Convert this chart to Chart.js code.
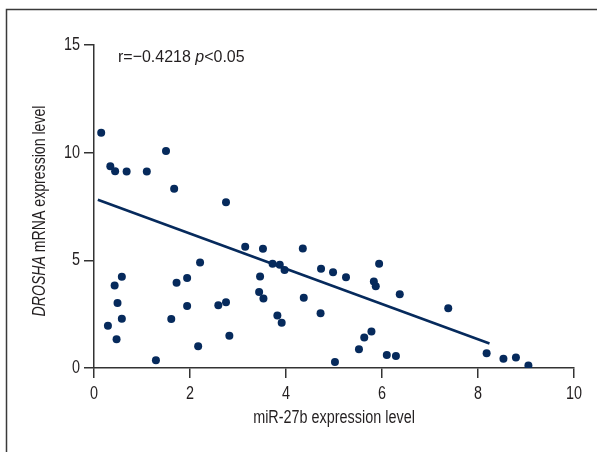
<!DOCTYPE html>
<html>
<head>
<meta charset="utf-8">
<script src="https://cdn.jsdelivr.net/npm/chart.js@4"></script>
<style>
html,body{margin:0;padding:0;background:#fff;}
#wrap{position:relative;width:597px;height:452px;}
</style>
</head>
<body>
<div id="wrap"><canvas id="c" width="597" height="452"></canvas></div>
<script>
const xValues = [0.15,0.34,0.44,0.68,1.10,1.50,1.67,2.75,3.15,3.52,4.35,3.72,3.87,3.97,4.73,4.98,5.25,5.94,5.83,5.87,6.37,7.38,2.21,1.94,1.72,0.58,0.43,0.49,0.58,0.29,0.47,1.29,1.61,1.94,2.17,2.59,2.75,2.82,3.46,3.44,3.53,3.82,3.91,4.37,4.72,5.02,5.52,5.63,5.78,6.10,6.29,8.18,8.53,8.79,9.05];
const yValues = [10.93,9.37,9.14,9.12,9.12,10.08,8.32,7.70,5.63,5.54,5.55,4.84,4.79,4.55,4.61,4.45,4.21,4.84,4.02,3.80,3.43,2.78,4.90,4.18,3.96,4.24,3.83,3.02,2.29,1.96,1.33,0.36,2.27,2.88,1.01,2.91,3.05,1.50,4.25,3.53,3.23,2.44,2.10,3.26,2.54,0.28,0.87,1.42,1.70,0.60,0.56,0.68,0.43,0.49,0.12];
const fitX = [0.08, 8.24];
const fitY = [7.81, 1.14];
const xTicks = [0,2,4,6,8,10];
const yTicks = [0,5,10,15];
const xTitle = "miR-27b expression level";
const yTitleItalic = "DROSHA";
const yTitleRest = " mRNA expression level";
const noteR = "r=\u22120.4218 ";
const noteP = "p";
const noteRest = "<0.05";

const FONT = '"Liberation Sans", Arial, sans-serif';
const NAVY = '#062a5c';
const AXIS = '#333333';
const TEXT = '#231f20';
const SQ = 0.8;

const points = xValues.map((x,i)=>({x:x,y:yValues[i]}));
const fit = fitX.map((x,i)=>({x:x,y:fitY[i]}));

function drawRuns(ctx, runs, x, y, size, sq, align){
  const fonts = runs.map(r => (r[1] ? 'italic ' : '') + size + 'px ' + FONT);
  const widths = runs.map((r,i)=>{ ctx.font = fonts[i]; return ctx.measureText(r[0]).width; });
  const total = widths.reduce((a,b)=>a+b,0);
  let start = align==='center' ? -total/2 : (align==='right' ? -total : 0);
  ctx.save();
  ctx.translate(x,y);
  ctx.scale(sq,1);
  ctx.textAlign='left';
  ctx.textBaseline='middle';
  let cx = start;
  runs.forEach((r,i)=>{ ctx.font = fonts[i]; ctx.fillText(r[0], cx, 0); cx += widths[i]; });
  ctx.restore();
}

const decor = {
  id:'decor',
  beforeDraw(chart){
    const ctx = chart.ctx;
    ctx.save();
    ctx.fillStyle='#fff';
    ctx.fillRect(0,0,chart.width,chart.height);
    ctx.strokeStyle='#3a3a3a';
    ctx.lineWidth=1.5;
    ctx.strokeRect(6.5,9.5,640,500);
    ctx.restore();
  },
  afterDraw(chart){
    const ctx = chart.ctx;
    const xs = chart.scales.x, ys = chart.scales.y;
    ctx.save();
    ctx.fillStyle=TEXT;
    xTicks.forEach(v=> drawRuns(ctx, [[String(v),false]], xs.getPixelForValue(v), 394, 18, SQ, 'center'));
    yTicks.forEach(v=> drawRuns(ctx, [[String(v),false]], 80, ys.getPixelForValue(v), 18, SQ, 'right'));
    drawRuns(ctx, [[xTitle,false]], (xs.left+xs.right)/2, 418, 18, SQ, 'center');
    ctx.save();
    ctx.translate(40, 211);
    ctx.rotate(-Math.PI/2);
    drawRuns(ctx, [[yTitleItalic,true],[yTitleRest,false]], 0, 0, 18, SQ*0.98, 'center');
    ctx.restore();
    drawRuns(ctx, [[noteR,false],[noteP,true],[noteRest,false]], xs.getPixelForValue(0.5), ys.getPixelForValue(14.45), 17, 0.94, 'left');
    ctx.restore();
  }
};

new Chart(document.getElementById('c'), {
  type:'scatter',
  data:{
    datasets:[
      {data:points, backgroundColor:NAVY, borderColor:NAVY, pointRadius:4, pointHoverRadius:4, borderWidth:0, showLine:false, order:1},
      {data:fit, type:'line', showLine:true, borderColor:NAVY, borderWidth:2.6, pointRadius:0, fill:false, order:2}
    ]
  },
  plugins:[decor],
  options:{
    responsive:false,
    animation:false,
    events:[],
    layout:{padding:{left:0,top:45,right:23,bottom:0}},
    plugins:{legend:{display:false},tooltip:{enabled:false}},
    scales:{
      x:{
        type:'linear', min:0, max:10,
        afterFit(s){ s.height = 84; },
        afterBuildTicks(s){ s.ticks = xTicks.map(v=>({value:v})); },
        grid:{drawOnChartArea:false, drawTicks:true, tickLength:10, color:AXIS, lineWidth:1.5},
        border:{color:AXIS, width:1.5},
        ticks:{display:false}
      },
      y:{
        type:'linear', min:0, max:15,
        afterFit(s){ s.width = 94; },
        afterBuildTicks(s){ s.ticks = yTicks.map(v=>({value:v})); },
        grid:{drawOnChartArea:false, drawTicks:true, tickLength:10, color:AXIS, lineWidth:1.5},
        border:{color:AXIS, width:1.5},
        ticks:{display:false}
      }
    }
  }
});
</script>
</body>
</html>
